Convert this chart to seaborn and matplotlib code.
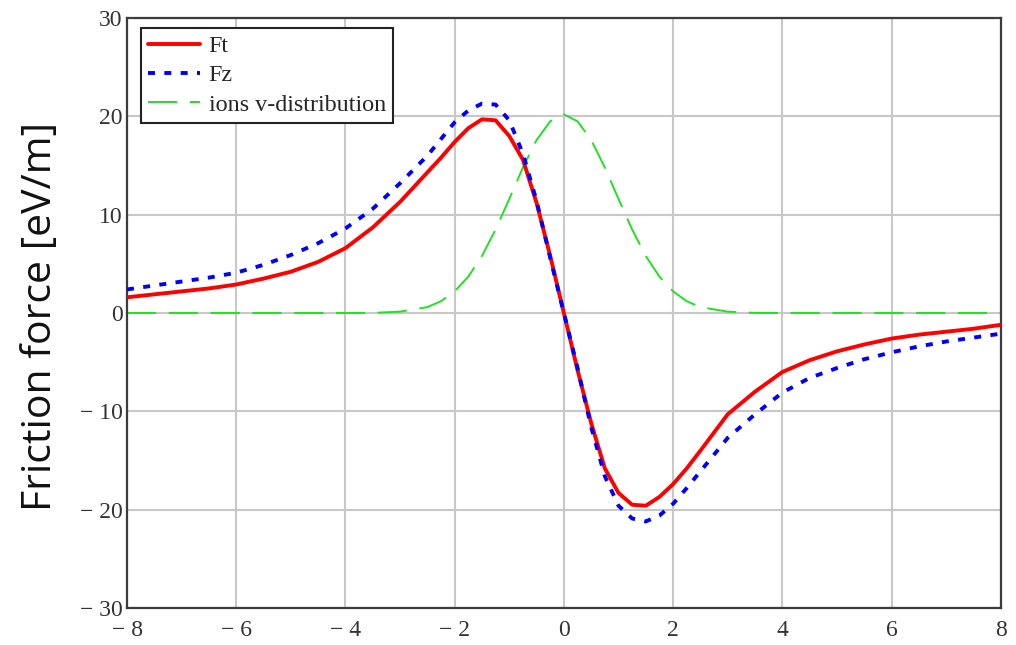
import numpy as np
import pandas as pd
import matplotlib
matplotlib.use("Agg")
import matplotlib.pyplot as plt
import seaborn as sns

# velocity grid
x_vals = [-8, -7.5, -7, -6.5, -6, -5.5, -5, -4.5, -4, -3.5, -3, -2.5, -2.25, -2, -1.75,
          -1.5, -1.25, -1, -0.75, -0.5, -0.25, 0, 0.25, 0.5, 0.75, 1, 1.25, 1.5, 1.75,
          2, 2.25, 2.5, 3, 3.5, 4, 4.5, 5, 5.5, 6, 6.5, 7, 7.5, 8]

ft_vals = [1.6, 1.9, 2.2, 2.5, 2.9, 3.5, 4.2, 5.2, 6.6, 8.7, 11.3, 14.3, 15.8, 17.4, 18.8,
           19.7, 19.6, 18.0, 15.6, 11.2, 5.8, 0.0, -5.8, -11.2, -15.8, -18.3, -19.5, -19.6, -18.7,
           -17.4, -15.8, -14.0, -10.3, -8.0, -6.0, -4.8, -3.9, -3.2, -2.6, -2.2, -1.9, -1.6, -1.2]

fz_vals = [2.4, 2.8, 3.2, 3.6, 4.1, 4.9, 5.9, 7.1, 8.6, 10.6, 13.2, 16.0, 17.7, 19.4, 20.6,
           21.3, 21.2, 19.6, 16.2, 11.4, 5.6, 0.0, -5.6, -11.6, -16.6, -19.6, -20.9, -21.2, -20.6,
           -19.4, -17.8, -16.1, -12.7, -10.3, -8.1, -6.6, -5.6, -4.7, -4.0, -3.4, -2.9, -2.5, -2.1]

ion_vals = [0, 0, 0, 0, 0, 0, 0, 0, 0, 0.01, 0.14, 0.6, 1.2, 2.2, 3.7,
            5.8, 8.5, 11.6, 14.8, 17.6, 19.5, 20.2, 19.5, 17.6, 14.8, 11.6, 8.5, 5.8, 3.7,
            2.2, 1.2, 0.6, 0.14, 0.01, 0, 0, 0, 0, 0, 0, 0, 0, 0]

x_ticks = [-8, -6, -4, -2, 0, 2, 4, 6, 8]
y_ticks = [-30, -20, -10, 0, 10, 20, 30]

df = pd.DataFrame({"v": x_vals, "Ft": ft_vals, "Fz": fz_vals, "ions": ion_vals})

sns.set_style("white")
plt.rcParams['font.family'] = ['Liberation Serif', 'DejaVu Serif']

fig = plt.figure(figsize=(10.16, 6.45), dpi=100)
ax = fig.add_axes([0.125, 0.0574, 0.86, 0.9146])

sns.lineplot(data=df, x="v", y="Ft", ax=ax, color="#ff0000", linewidth=2.8,
             label="Ft", sort=False, estimator=None, zorder=3)
sns.lineplot(data=df, x="v", y="Fz", ax=ax, color="#0000ff", linewidth=2.8,
             linestyle=(0, (1.8, 2.4)), label="Fz", sort=False, estimator=None, zorder=4)
sns.lineplot(data=df, x="v", y="ions", ax=ax, color="#22e022", linewidth=1.4,
             linestyle=(0, (15, 6.5)), label="ions v-distribution", sort=False,
             estimator=None, zorder=2)

ax.set_xlim(-8, 8)
ax.set_ylim(-30, 30)
ax.set_xticks(x_ticks)
ax.set_yticks(y_ticks)
fmt = lambda v: ("\u2212 " + str(abs(v))) if v < 0 else str(v)
ax.set_xticklabels([fmt(v) for v in x_ticks])
ax.set_yticklabels([fmt(v) for v in y_ticks])
ax.tick_params(axis="both", length=0, labelsize=17, labelcolor="#333333")
ax.tick_params(axis="x", pad=9)
ax.tick_params(axis="y", pad=3)
ax.set_xlabel("")
ax.set_ylabel("")

ax.grid(True, color="#c8c8c8", linewidth=1.5)
ax.set_axisbelow(True)
for sp in ax.spines.values():
    sp.set_color("#3c3c3c")
    sp.set_linewidth(1.6)

leg = ax.legend(loc="upper left", bbox_to_anchor=(0.016, 0.983), fontsize=17.4,
                frameon=True, fancybox=False, framealpha=1, edgecolor="#222222",
                handlelength=2.15, labelspacing=0.3, borderpad=0.3, handletextpad=0.35,
                borderaxespad=0)
leg.get_frame().set_linewidth(1.5)

fig.text(0.040, 0.51, "Friction force [eV/m]", rotation=90, ha="center", va="center",
         fontsize=29.5, family=["Open Sans", "DejaVu Sans"], color="#111111")

fig.savefig("out.png", dpi=100)
